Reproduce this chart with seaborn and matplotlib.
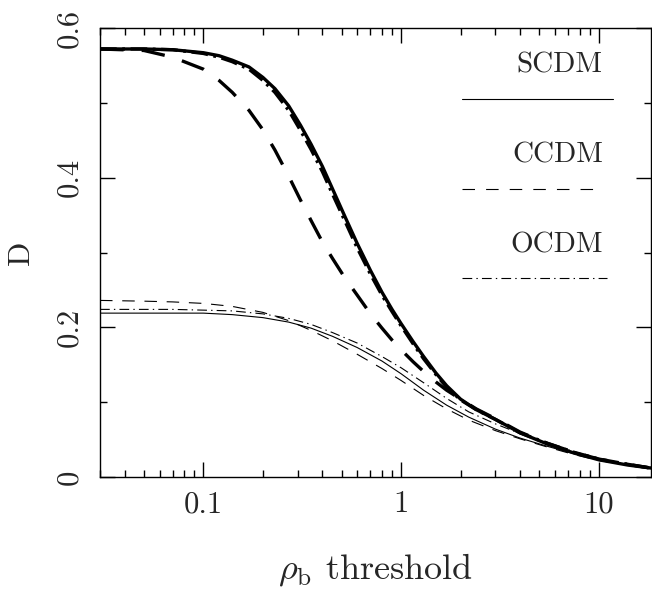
import pandas as pd
import seaborn as sns
import matplotlib.pyplot as plt
from matplotlib.ticker import FixedLocator, FixedFormatter, LogLocator, NullFormatter

# density thresholds (thick curves)
rho_thick = [0.03, 0.05, 0.07, 0.1, 0.12, 0.14, 0.17, 0.2, 0.23, 0.27, 0.31, 0.35, 0.4, 0.45,
             0.52, 0.6, 0.7, 0.8, 0.9, 1.0, 1.15, 1.3, 1.5, 1.7, 2.0, 2.4, 3.0, 4.0, 5.5,
             7.5, 10, 14, 18.3]
scdm_thick = [0.572, 0.572, 0.571, 0.567, 0.563, 0.557, 0.548, 0.534, 0.519, 0.496, 0.470, 0.445,
              0.415, 0.385, 0.348, 0.312, 0.276, 0.247, 0.224, 0.205, 0.181, 0.161, 0.139,
              0.122, 0.104, 0.090, 0.077, 0.059, 0.044, 0.032, 0.023, 0.016, 0.012]
ccdm_thick = [0.572, 0.570, 0.561, 0.545, 0.530, 0.514, 0.490, 0.464, 0.437, 0.402, 0.370, 0.343,
              0.314, 0.292, 0.266, 0.243, 0.218, 0.199, 0.183, 0.170, 0.154, 0.141, 0.127,
              0.116, 0.104, 0.091, 0.078, 0.060, 0.045, 0.033, 0.024, 0.017, 0.012]
ocdm_thick = [0.572, 0.572, 0.571, 0.566, 0.561, 0.555, 0.545, 0.530, 0.514, 0.490, 0.463, 0.438,
              0.408, 0.378, 0.342, 0.306, 0.271, 0.243, 0.221, 0.202, 0.178, 0.158, 0.137,
              0.120, 0.103, 0.090, 0.077, 0.059, 0.045, 0.033, 0.024, 0.017, 0.012]

# thin curves
rho_thin = [0.03, 0.05, 0.07, 0.1, 0.14, 0.2, 0.27, 0.35, 0.45, 0.6, 0.8, 1.0,
            1.3, 1.7, 2.2, 3.0, 4.0, 5.5, 7.5, 10, 14, 18.3]
scdm_thin = [0.219, 0.219, 0.219, 0.219, 0.217, 0.213, 0.207, 0.199, 0.188, 0.173, 0.155, 0.138,
             0.116, 0.096, 0.080, 0.064, 0.052, 0.041, 0.031, 0.023, 0.016, 0.012]
ccdm_thin = [0.236, 0.235, 0.234, 0.232, 0.228, 0.220, 0.209, 0.196, 0.182, 0.164, 0.145, 0.129,
             0.109, 0.091, 0.076, 0.062, 0.051, 0.040, 0.030, 0.022, 0.016, 0.012]
ocdm_thin = [0.224, 0.224, 0.224, 0.223, 0.222, 0.218, 0.212, 0.204, 0.193, 0.179, 0.161, 0.146,
             0.126, 0.105, 0.087, 0.071, 0.058, 0.045, 0.034, 0.025, 0.017, 0.013]

models = ['SCDM', 'CCDM', 'OCDM']
xticks = [0.1, 1, 10]
xticklabels = ['0.1', '1', '10']
yticks = [0, 0.2, 0.4, 0.6]
yticklabels = ['0', '0.2', '0.4', '0.6']

rows = []
for m, thick, thin in zip(models, [scdm_thick, ccdm_thick, ocdm_thick],
                          [scdm_thin, ccdm_thin, ocdm_thin]):
    for x, v in zip(rho_thick, thick):
        rows.append({'model': m, 'rho': x, 'D': v, 'kind': 'thick'})
    for x, v in zip(rho_thin, thin):
        rows.append({'model': m, 'rho': x, 'D': v, 'kind': 'thin'})
df = pd.DataFrame(rows)

sns.set_theme(style='ticks')
plt.rcParams['font.family'] = 'serif'
plt.rcParams['font.serif'] = ['cmr10', 'DejaVu Serif']
plt.rcParams['mathtext.fontset'] = 'cm'
plt.rcParams['axes.formatter.use_mathtext'] = True
plt.rcParams['lines.scale_dashes'] = False

styles = {
    ('SCDM', 'thick'): '-',
    ('CCDM', 'thick'): (0, (17, 13)),
    ('OCDM', 'thick'): (0, (12, 4, 2, 4)),
    ('SCDM', 'thin'): '-',
    ('CCDM', 'thin'): (0, (9, 7)),
    ('OCDM', 'thin'): (0, (7, 3, 1, 3)),
}
widths = {'thick': 2.4, 'thin': 0.8}

fig = plt.figure(figsize=(6.52, 5.9), dpi=100)
ax = fig.add_axes([0.1534, 0.1915, 0.8446, 0.761])

for (m, kind), sub in df.groupby(['model', 'kind']):
    sns.lineplot(data=sub, x='rho', y='D', ax=ax, color='black',
                 linewidth=widths[kind], linestyle=styles[(m, kind)],
                 estimator=None, sort=False, legend=False)

ax.set_xscale('log')
ax.set_xlim(0.03, 18.3)
ax.set_ylim(0, 0.6)

ax.xaxis.set_major_locator(FixedLocator(xticks))
ax.xaxis.set_major_formatter(FixedFormatter(xticklabels))
ax.xaxis.set_minor_locator(LogLocator(base=10, subs=range(2, 10)))
ax.xaxis.set_minor_formatter(NullFormatter())
ax.yaxis.set_major_locator(FixedLocator(yticks))
ax.yaxis.set_major_formatter(FixedFormatter(yticklabels))
ax.yaxis.set_minor_locator(FixedLocator([0.1, 0.3, 0.5]))

ax.tick_params(which='both', direction='in', top=True, right=True, width=1, color='black')
ax.tick_params(which='major', length=10.5)
ax.tick_params(which='minor', length=5)
ax.tick_params(axis='x', which='major', labelsize=22, pad=10)
ax.tick_params(axis='y', which='major', labelsize=22, pad=12)
for lab in ax.get_yticklabels():
    lab.set_rotation(90)
    lab.set_va('center')

for s in ax.spines.values():
    s.set_linewidth(1)
    s.set_color('black')

ax.set_ylabel('D', fontsize=23, va='center')
ax.yaxis.set_label_coords(-0.1425, 0.5)
ax.set_xlabel(r'$\rho_{\rm b}$ threshold', fontsize=26, va='baseline')
ax.xaxis.set_label_coords(0.5, -0.225)

# legend: label above a line sample
key_y = [0.842, 0.641, 0.443]
text_y = [0.90, 0.70, 0.50]
key_right = [0.931, 0.913, 0.920]
key_styles = ['-', (0, (9, 8)), (0, (7, 3, 1, 3))]
for m, ky, ty, kr, ls in zip(models, key_y, text_y, key_right, key_styles):
    ax.text(0.913, ty, m, transform=ax.transAxes, ha='right', va='baseline', fontsize=21)
    ax.plot([0.657, kr], [ky, ky], transform=ax.transAxes, color='black',
            linewidth=0.8, linestyle=ls)

fig.savefig('out.png', dpi=100)
